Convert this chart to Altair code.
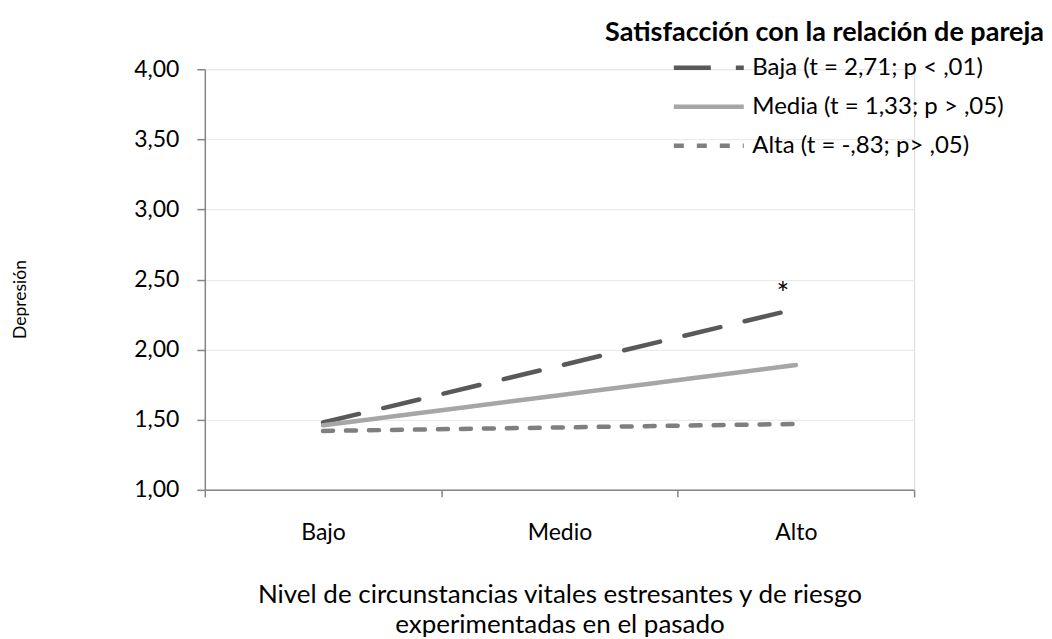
import altair as alt
import pandas as pd

niveles = ["Bajo", "Medio", "Alto"]
series = ["Baja (t = 2,71; p < ,01)", "Media (t = 1,33; p > ,05)", "Alta (t = -,83; p> ,05)"]
puntos_x = ["Bajo", "Alto"]
baja = [1.48, 2.29]
media = [1.46, 1.89]
alta = [1.42, 1.47]
y_ticks = [1.0, 1.5, 2.0, 2.5, 3.0, 3.5, 4.0]
anot_serie = [series[0]]
anot_x = ["Alto"]
anot_y = [2.29]
anot_txt = ["*"]

rows = []
for s, vals in zip(series, [baja, media, alta]):
    for x, v in zip(puntos_x, vals):
        rows.append({"serie": s, "nivel": x, "valor": v})
df = pd.DataFrame(rows)
ann = pd.DataFrame({"serie": anot_serie, "nivel": anot_x, "valor": anot_y, "txt": anot_txt})

FONT = "Lato"
colores = ["#595959", "#a6a6a6", "#7f7f7f"]
dashes = [[37, 25], [1, 0], [10, 13]]

leg = dict(
    title=None, orient="none", legendX=467, legendY=-21,
    symbolType="stroke", symbolSize=4900, symbolStrokeWidth=4.5,
    labelFontSize=24, labelFont=FONT, labelColor="#000000", labelLimit=600,
    rowPadding=0, clipHeight=39, labelOffset=6,
)

x_enc = alt.X(
    "nivel:N",
    sort=niveles,
    scale=alt.Scale(type="band", domain=niveles, paddingInner=0, paddingOuter=0),
    bandPosition=0.5,
    axis=alt.Axis(
        title=["Nivel de circunstancias vitales estresantes y de riesgo", "experimentadas en el pasado"],
        titleFontSize=26, titleFontWeight="normal", titleLineHeight=30, titlePadding=37,
        titleColor="#000000", titleFont=FONT,
        labelFontSize=23, labelColor="#000000", labelFont=FONT, labelPadding=25, labelAngle=0,
        tickBand="extent", ticks=True, tickSize=7, tickColor="#868686", tickWidth=1.5,
        domainColor="#868686", domainWidth=1.5, grid=False,
    ),
)
y_enc = alt.Y(
    "valor:Q",
    scale=alt.Scale(domain=[1, 4], nice=False, zero=False),
    axis=alt.Axis(
        title="Depresión", titleFontSize=17.5, titleFontWeight="normal", titleColor="#000000",
        titleFont=FONT, titlePadding=104, titleY=230,
        values=y_ticks, labelExpr="replace(format(datum.value, '.2f'), '.', ',')",
        labelFontSize=23, labelColor="#000000", labelFont=FONT, labelPadding=18,
        tickSize=8, tickColor="#868686", tickWidth=1.5,
        domainColor="#868686", domainWidth=1.5,
        grid=True, gridColor="#ebebeb", gridWidth=1.2,
    ),
)

lines = alt.Chart(df).mark_line(strokeWidth=4.5, strokeCap="round").encode(
    x=x_enc,
    y=y_enc,
    color=alt.Color("serie:N", scale=alt.Scale(domain=series, range=colores), legend=alt.Legend(**leg)),
    strokeDash=alt.StrokeDash("serie:N", scale=alt.Scale(domain=series, range=dashes), legend=alt.Legend(**leg)),
    detail="serie:N",
)

stars = alt.Chart(ann).mark_text(fontSize=30, font=FONT, color="#000000", dy=-14, dx=-13).encode(
    x=alt.X("nivel:N", sort=niveles, bandPosition=0.5),
    y=alt.Y("valor:Q"),
    text="txt:N",
)

chart = alt.layer(lines, stars).properties(
    width=710,
    height=421,
    padding={"left": 3, "top": 11, "right": 0, "bottom": 0},
    title=alt.TitleParams(
        "Satisfacción con la relación de pareja",
        anchor="end", frame="group", dx=130, offset=1,
        fontSize=27, fontWeight="bold", font=FONT, color="#000000",
    ),
).configure_view(stroke=None).configure(background="#ffffff")

chart.save("out.html", embed_options={"renderer": "svg", "actions": False})
